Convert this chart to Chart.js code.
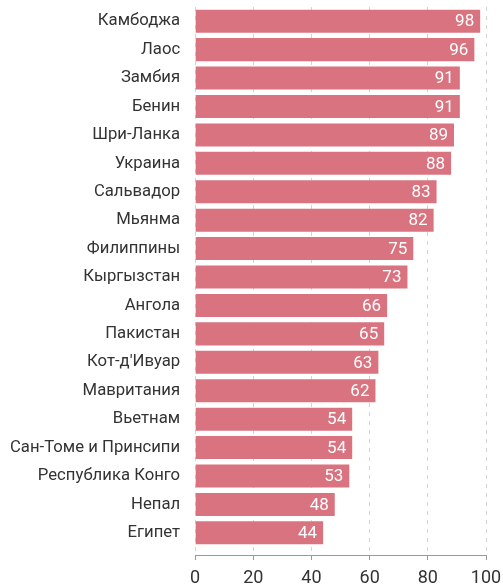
<!DOCTYPE html>
<html>
<head>
<meta charset="utf-8">
<script src="https://cdn.jsdelivr.net/npm/chart.js@4"></script>
<style>
  html, body { margin: 0; padding: 0; background: #fff; }
  #wrap { width: 503px; height: 586px; position: relative; }
</style>
</head>
<body>
<div id="wrap"><canvas id="chart"></canvas></div>
<script>
const countries = [
  "Камбоджа", "Лаос", "Замбия", "Бенин", "Шри-Ланка", "Украина", "Сальвадор",
  "Мьянма", "Филиппины", "Кыргызстан", "Ангола", "Пакистан", "Кот-д'Ивуар",
  "Мавритания", "Вьетнам", "Сан-Томе и Принсипи", "Республика Конго", "Непал", "Египет"
];
const values = [98, 96, 91, 91, 89, 88, 83, 82, 75, 73, 66, 65, 63, 62, 54, 54, 53, 48, 44];
const xTicks = [0, 20, 40, 60, 80, 100];

const BAR = "rgb(217, 115, 127)";
const TEXT = "#333";

// white value labels inside the bar ends
const valueLabels = {
  id: "valueLabels",
  afterDatasetsDraw(chart) {
    const ctx = chart.ctx;
    const meta = chart.getDatasetMeta(0);
    ctx.save();
    ctx.fillStyle = "#fff";
    ctx.font = "17px Roboto";
    ctx.textAlign = "right";
    ctx.textBaseline = "middle";
    meta.data.forEach((bar, i) => {
      ctx.fillText(String(values[i]), bar.x - 6, bar.y + 1);
    });
    ctx.restore();
  }
};

new Chart(document.getElementById("chart"), {
  type: "bar",
  data: {
    datasets: [{
      data: values.map((v, i) => ({ x: v, y: i })),
      backgroundColor: BAR,
      categoryPercentage: 1,
      barPercentage: 0.81
    }]
  },
  options: {
    indexAxis: "y",
    animation: false,
    responsive: true,
    maintainAspectRatio: false,
    layout: { padding: { top: 7, left: 10, right: 0 } },
    scales: {
      y: {
        type: "linear",
        reverse: true,
        offset: false,
        min: -0.5,
        max: 18.78,
        afterBuildTicks: (scale) => {
          scale.ticks = countries.map((_, i) => ({ value: i }));
        },
        ticks: {
          autoSkip: false,
          padding: 0,
          color: TEXT,
          font: { family: "Roboto", size: 16.7, lineHeight: 0.8 },
          callback: (v) => countries[v]
        },
        grid: { display: false, drawTicks: true, tickLength: 15 },
        border: { display: false }
      },
      x: {
        type: "linear",
        min: 0,
        max: 100,
        afterBuildTicks: (scale) => {
          scale.ticks = xTicks.map((v) => ({ value: v }));
        },
        // tick labels sit right on the bottom edge, "100" runs off the right
        afterFit: (scale) => {
          scale.paddingRight = 17;
          scale.height = 31;
        },
        ticks: {
          padding: 10,
          color: TEXT,
          font: { family: "Roboto", size: 18, lineHeight: 0.9 }
        },
        grid: {
          color: "#d4d4d4",
          tickColor: "#999",
          tickLength: 5
        },
        border: { display: true, color: "#999", dash: [4, 5] }
      }
    },
    plugins: {
      legend: { display: false },
      tooltip: { enabled: false }
    }
  },
  plugins: [valueLabels]
});
</script>
</body>
</html>
